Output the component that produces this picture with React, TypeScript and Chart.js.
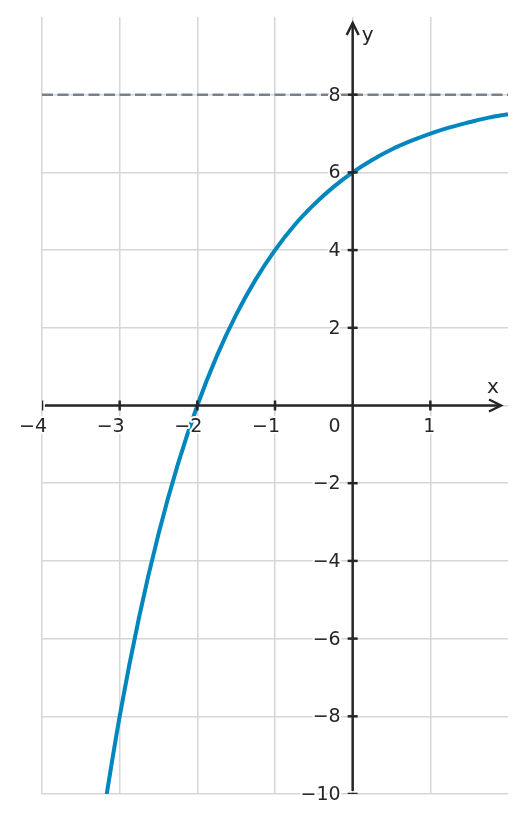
import { useRef, useEffect } from "react";
import { Chart, registerables, type ChartConfiguration, type Plugin } from "chart.js";

Chart.register(...registerables);

// values
const curveX = [-3.25, -3, -2.75, -2.5, -2.25, -2, -1.75, -1.5, -1.25, -1, -0.75, -0.5, -0.25, 0, 0.25, 0.5, 0.75, 1, 1.25, 1.5, 1.75, 2];
const curveY = [-11.03, -8, -5.45, -3.31, -1.51, 0, 1.27, 2.34, 3.24, 4, 4.64, 5.17, 5.62, 6, 6.32, 6.59, 6.81, 7, 7.16, 7.29, 7.41, 7.5];

// horizontal asymptote
const asymptoteX = [-4, 2];
const asymptoteY = [8, 8];

const xTicks = [-4, -3, -2, -1, 0, 1];
const yTicks = [-10, -8, -6, -4, -2, 0, 2, 4, 6, 8];
const xMin = -4;
const xMax = 2;
const yMin = -10;
const yMax = 10;

const CURVE = "#0087bd";
const DASH = "#76838e";
const GRID = "#d6d6d6";
const AXIS = "#262626";
const FONT = "19px 'DejaVu Sans'";

const fmt = (v: number) => (v < 0 ? "\u2212" + Math.abs(v) : String(v));

export default function App(): JSX.Element {
  const canvasRef = useRef<HTMLCanvasElement>(null);
  const chartRef = useRef<Chart | null>(null);

  useEffect(() => {
    document.body.style.margin = "0";
    const canvas = canvasRef.current;
    if (!canvas) return;

    const axesPlugin: Plugin = {
      id: "centerAxes",
      afterDatasetsDraw(chart) {
        const { ctx, chartArea: a, scales } = chart;
        const xs = scales["x"];
        const ys = scales["y"];
        const ox = xs.getPixelForValue(0);
        const oy = ys.getPixelForValue(0);

        const line = (x1: number, y1: number, x2: number, y2: number) => {
          ctx.beginPath();
          ctx.moveTo(x1, y1);
          ctx.lineTo(x2, y2);
          ctx.stroke();
        };

        ctx.save();
        ctx.beginPath();
        ctx.rect(a.left, a.top, a.right - a.left, a.bottom - a.top);
        ctx.clip();
        ctx.strokeStyle = AXIS;
        ctx.lineWidth = 2.5;

        // axis lines
        const tipX = a.right - 7;
        const tipY = a.top + 6;
        line(a.left + 3, oy, tipX, oy);
        line(ox, a.bottom - 3, ox, tipY);

        // arrow heads
        ctx.beginPath();
        ctx.moveTo(tipX - 12, oy - 6);
        ctx.lineTo(tipX, oy);
        ctx.lineTo(tipX - 12, oy + 6);
        ctx.stroke();
        ctx.beginPath();
        ctx.moveTo(ox - 6, tipY + 12);
        ctx.lineTo(ox, tipY);
        ctx.lineTo(ox + 6, tipY + 12);
        ctx.stroke();

        // tick marks
        for (const v of xTicks) {
          if (v === 0) continue;
          const px = xs.getPixelForValue(v);
          line(px, oy - 5, px, oy + 5);
        }
        for (const v of yTicks) {
          if (v === 0) continue;
          const py = ys.getPixelForValue(v);
          line(ox - 5, py, ox + 5, py);
        }
        ctx.restore();

        // labels with a white halo
        ctx.save();
        ctx.font = FONT;
        ctx.fillStyle = AXIS;
        ctx.strokeStyle = "#ffffff";
        ctx.lineWidth = 4;
        ctx.lineJoin = "round";
        const label = (t: string, x: number, y: number, align: CanvasTextAlign) => {
          ctx.textAlign = align;
          ctx.strokeText(t, x, y);
          ctx.fillText(t, x, y);
        };
        for (const v of xTicks) {
          if (v === 0) continue;
          label(fmt(v), xs.getPixelForValue(v) + 5, oy + 26, "right");
        }
        label("0", ox - 12, oy + 26, "right");
        for (const v of yTicks) {
          if (v === 0) continue;
          label(fmt(v), ox - 12, ys.getPixelForValue(v) + 6, "right");
        }
        ctx.font = "20px 'DejaVu Sans'";
        label("y", ox + 9, a.top + 24, "left");
        label("x", a.right - 15, oy - 13, "center");
        ctx.restore();
      },
    };

    const config: ChartConfiguration = {
      type: "line",
      data: {
        datasets: [
          {
            data: asymptoteX.map((x, i) => ({ x, y: asymptoteY[i] })),
            borderColor: DASH,
            borderWidth: 2.5,
            borderDash: [11, 4.5],
            pointRadius: 0,
            fill: false,
            clip: 0,
          },
          {
            data: curveX.map((x, i) => ({ x, y: curveY[i] })),
            borderColor: CURVE,
            borderWidth: 4,
            pointRadius: 0,
            fill: false,
            cubicInterpolationMode: "monotone",
            clip: 0,
          },
        ],
      },
      options: {
        responsive: true,
        maintainAspectRatio: false,
        animation: false,
        events: [],
        layout: { padding: { left: 42, right: 18, top: 17, bottom: 29 } },
        plugins: {
          legend: { display: false },
          tooltip: { enabled: false },
        },
        scales: {
          x: {
            type: "linear",
            min: xMin,
            max: xMax,
            ticks: { display: false, stepSize: 1 },
            grid: {
              drawTicks: false,
              lineWidth: 1.5,
              color: (c) => (c.tick && c.tick.value === xMax ? "rgba(0,0,0,0)" : GRID),
            },
            border: { display: false },
          },
          y: {
            type: "linear",
            min: yMin,
            max: yMax,
            ticks: { display: false, stepSize: 2 },
            grid: {
              drawTicks: false,
              lineWidth: 1.5,
              color: (c) => (c.tick && c.tick.value === yMax ? "rgba(0,0,0,0)" : GRID),
            },
            border: { display: false },
          },
        },
      },
      plugins: [axesPlugin],
    };

    if (chartRef.current) {
      chartRef.current.destroy();
    }
    Chart.getChart(canvas)?.destroy();
    chartRef.current = new Chart(canvas, config);

    return () => {
      chartRef.current?.destroy();
      chartRef.current = null;
    };
  }, []);

  return (
    <div style={{ position: "relative", width: 526, height: 823 }}>
      <canvas ref={canvasRef} />
    </div>
  );
}
